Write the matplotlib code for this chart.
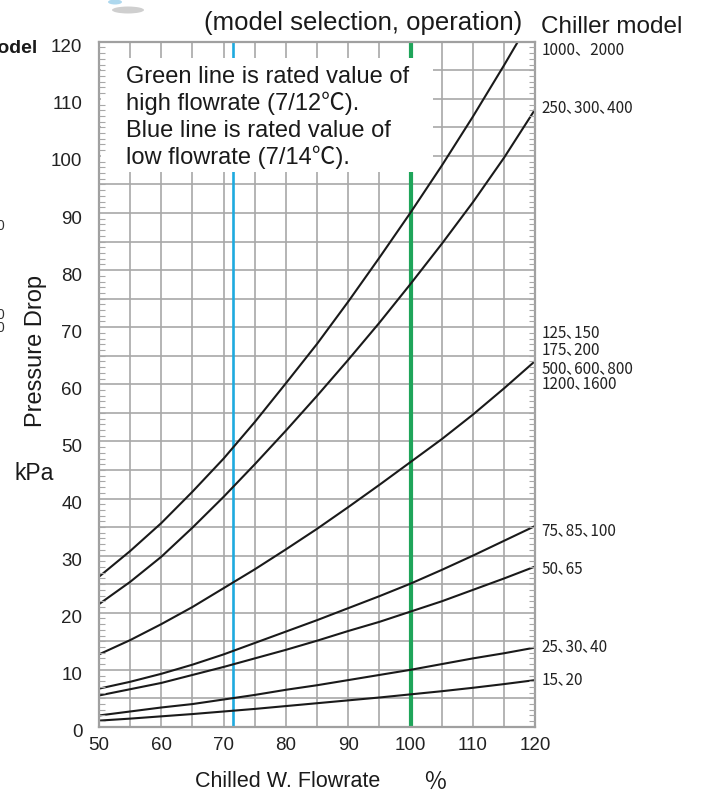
import matplotlib
matplotlib.use("Agg")
import matplotlib.pyplot as plt
import matplotlib.transforms as mtransforms
from matplotlib.patches import Rectangle, Ellipse
from matplotlib.ticker import MultipleLocator

plt.rcParams['font.family'] = ['Liberation Sans', 'Noto Sans CJK JP']

# Datos (caudal % -> perdida de carga kPa)
flow = [50, 55, 60, 65, 70, 75, 80, 85, 90, 95, 100, 105, 110, 115, 120]

dp_1000 = [26.3, 30.8, 35.7, 41.2, 47.0, 53.4, 60.2, 67.1, 74.5, 82.2, 90.1, 98.3, 106.9, 115.9, 125.2]
dp_250 = [21.5, 25.4, 29.8, 34.9, 40.3, 46.0, 51.9, 58.0, 64.3, 70.8, 77.6, 84.6, 91.9, 99.7, 108.2]
dp_125 = [12.7, 15.2, 18.0, 21.0, 24.3, 27.6, 31.1, 34.7, 38.5, 42.4, 46.4, 50.4, 54.7, 59.3, 64.1]
dp_75 = [6.7, 7.9, 9.3, 10.9, 12.7, 14.7, 16.7, 18.7, 20.8, 22.9, 25.1, 27.5, 30.0, 32.6, 35.2]
dp_50 = [5.5, 6.6, 7.7, 9.1, 10.5, 12.0, 13.5, 15.1, 16.8, 18.4, 20.2, 22.0, 24.0, 26.0, 28.1]
dp_25 = [2.0, 2.7, 3.4, 4.0, 4.8, 5.6, 6.5, 7.3, 8.2, 9.1, 10.0, 11.0, 12.0, 12.9, 13.9]
dp_15 = [1.1, 1.45, 1.85, 2.25, 2.7, 3.15, 3.65, 4.15, 4.65, 5.15, 5.7, 6.25, 6.85, 7.5, 8.2]

curves = [dp_1000, dp_250, dp_125, dp_75, dp_50, dp_25, dp_15]

# Etiquetas de modelos a la derecha
model_labels = ["1000、2000", "250､300､400", "125､150", "175､200", "500､600､800",
                "1200､1600", "75､85､100", "50､65", "25､30､40", "15､20"]
model_label_y = [118.6, 108.5, 69.1, 66.0, 62.8, 60.1, 34.3, 27.7, 14.1, 8.3]

blue_x = 71.5
green_x = 100

note_lines = ["Green line is rated value of",
              "high flowrate (7/12℃).",
              "Blue line is rated value of",
              "low flowrate (7/14℃)."]

x_ticks = list(range(50, 121, 10))
y_ticks = list(range(0, 121, 10))
grid_x = list(range(55, 120, 5))
grid_y = list(range(5, 120, 5))

W, H = 701, 794
fig = plt.figure(figsize=(W / 100, H / 100), dpi=100)
ax = fig.add_axes([99 / W, 1 - 726.9 / H, 436.3 / W, 685.2 / H])

grid_color = "#a8a8a8"

for gx in grid_x:
    ax.axvline(gx, color=grid_color, lw=1.2, zorder=0.5)
for gy in grid_y:
    ax.axhline(gy, color=grid_color, lw=1.2, zorder=0.5)

# lineas de valor nominal
ax.axvline(blue_x, color="#1eaadf", lw=1.9, zorder=1.2)
ax.axvline(green_x, color="#1fa55a", lw=3.0, zorder=1.2)

for c in curves:
    ax.plot(flow, c, color="#1a1a1a", lw=1.5, zorder=1.5)

# recuadro blanco con la nota
ax.add_patch(Rectangle((50.3, 97.2), 53.3, 19.9, facecolor="white",
                       edgecolor="none", zorder=2))

ax.set_xlim(50, 120)
ax.set_ylim(0, 120)
ax.set_axisbelow(False)

ax.set_xticks(x_ticks)
ax.set_yticks(y_ticks)
ax.yaxis.set_minor_locator(MultipleLocator(1))
ax.tick_params(axis="both", which="major", length=0, labelsize=13.5,
               colors="#222222")
ax.tick_params(axis="x", which="major", pad=7)
ax.tick_params(axis="y", which="major", pad=12)
ax.tick_params(axis="y", which="minor", direction="in", length=4.5,
               width=0.8, color=grid_color, left=True, right=True)

offset = mtransforms.ScaledTranslation(0, -4 / 100, fig.dpi_scale_trans)
for lab in ax.get_yticklabels():
    lab.set_transform(lab.get_transform() + offset)

for s in ax.spines.values():
    s.set_color("#a0a0a0")
    s.set_linewidth(1.6)

for i, line in enumerate(note_lines):
    fig.text(126 / W, 1 - (83 + 27 * i) / H, line, fontsize=17,
             va="baseline", ha="left", color="#1a1a1a", zorder=3)

for lab, yv in zip(model_labels, model_label_y):
    ax.text(121.0, yv, lab, fontsize=11, va="center", ha="left",
            family=["Noto Sans CJK JP", "DejaVu Sans"], color="#222222",
            clip_on=False)

# textos alrededor
fig.text(363 / W, 1 - 30 / H, "(model selection, operation)", fontsize=18.5,
         ha="center", va="baseline", color="#1a1a1a")
fig.text(541 / W, 1 - 33 / H, "Chiller model", fontsize=17.5,
         ha="left", va="baseline", color="#1a1a1a")
fig.text(38 / W, 1 - 53 / H, "model", fontsize=14, fontweight="bold",
         ha="right", va="baseline", color="#1a1a1a")
fig.text(4 / W, 1 - 230 / H, "0", fontsize=10, ha="right",
         va="baseline", color="#333333")
fig.text(4 / W, 1 - 332 / H, "0\n0", fontsize=10, ha="right",
         va="baseline", color="#333333", linespacing=0.9)

fig.text(36 / W, 1 - 351 / H, "Pressure Drop", fontsize=17, rotation=90,
         ha="center", va="center", color="#1a1a1a")
fig.text(15 / W, 1 - 480 / H, "kPa", fontsize=16.5, ha="left",
         va="baseline", color="#1a1a1a")
fig.text(195 / W, 1 - 787 / H, "Chilled W. Flowrate", fontsize=15.5,
         ha="left", va="baseline", color="#1a1a1a")
fig.text(423 / W, 1 - 789 / H, "％", fontsize=17,
         family=["Noto Sans CJK JP", "DejaVu Sans"],
         ha="left", va="baseline", color="#1a1a1a")

# restos del logo recortado arriba a la izquierda
fig.patches.append(Ellipse((128 / W, 1 - 10 / H), 32 / W, 7 / H,
                           transform=fig.transFigure, facecolor="#c4c4c4",
                           edgecolor="none", alpha=0.8))
fig.patches.append(Ellipse((115 / W, 1 - 2 / H), 14 / W, 5 / H,
                           transform=fig.transFigure, facecolor="#8cc8e8",
                           edgecolor="none", alpha=0.7))

fig.savefig("out.png", dpi=100)
